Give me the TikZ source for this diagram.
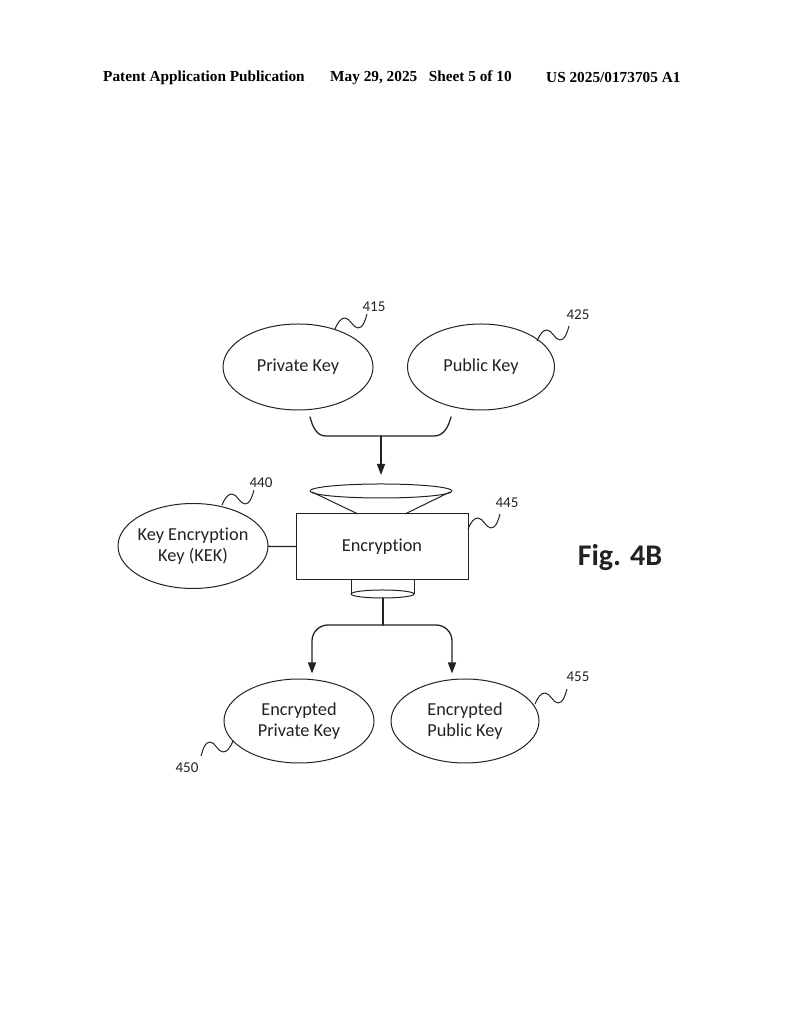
\documentclass[tikz,border=0pt]{standalone}
\usepackage{fontspec}
\setmainfont{Carlito}[Ligatures=NoCommon]
\newfontfamily\hdrfont{Liberation Serif}
\usetikzlibrary{calc,shapes.geometric,arrows.meta}
\definecolor{ink}{HTML}{222222}
\tikzset{
  base/.style={draw=ink, line width=1pt, line join=round},
  conn/.style={draw=ink, line width=1.3pt, line cap=round},
  arr/.style={conn, -{Triangle[width=8pt,length=11pt]}},
  keyell/.style={ellipse, draw=ink, line width=1pt, minimum width=150pt, minimum height=86pt,
    inner sep=0pt, align=center, text=ink, font=\fontsize{18.3}{21.5}\selectfont},
  encbox/.style={rectangle, draw=ink, line width=1pt, minimum width=172pt, minimum height=66pt,
    text=ink, font=\fontsize{18.3}{21.5}\selectfont},
  refnum/.style={text=ink, inner sep=0pt, font=\fontsize{15}{17}\selectfont},
  hdr/.style={anchor=west, inner sep=0pt, text=black, font=\hdrfont\bfseries\fontsize{15.3}{18}\selectfont},
  squig/.pic={\draw[base] (0,0) .. controls (3,7) and (6,11) .. (10,11)
    .. controls (15,11) and (18,1) .. (23,1) .. controls (28,1) and (30,8) .. (32,15);},
}
\begin{document}
\begin{tikzpicture}[x=1pt,y=1pt]
  \useasboundingbox (0,0) rectangle (794,1024);

  % header line
  \node[hdr] (h1) at (103,946) {Patent Application Publication};
  \node[hdr] (h2) at (330,946) {May 29, 2025\ \ \ Sheet 5 of 10};
  \node[hdr] (h3) at (546,946) {US 2025/0173705 A1};

  % key nodes
  \node[keyell] (priv) at (298,657) {Private Key};
  \node[keyell, minimum width=147pt] (pub) at (481,657) {Public Key};
  \node[keyell, minimum height=85pt, inner xsep=-4pt] (kek) at (193,478) {Key Encryption\\Key (KEK)};
  \node[encbox] (enc) at (382,477) {Encryption};
  \node[keyell, minimum height=84pt] (epriv) at (299,303) {Encrypted\\Private Key};
  \node[keyell, minimum width=148pt, minimum height=84pt] (epub) at (465,303) {Encrypted\\Public Key};

  \node[text=ink, font=\bfseries\fontsize{30}{36}\selectfont] (fig) at (620,466) {Fig. 4B};

  % brace joining the two keys
  \coordinate (bl) at (310,607);
  \coordinate (br) at (451,607);
  \coordinate (bm) at (381,588);
  \coordinate (fun) at (381,533);
  \draw[conn] (bl) to[out=-75,in=180] (326,588) -- (434,588) to[out=0,in=-105] (br);
  \draw[arr] (bm) -- ($(fun)+(0,16)$);

  % funnel on top of the box
  \draw[base] (fun) ellipse [x radius=71pt, y radius=7pt];
  \draw[base] (312,532) -- (358,510);
  \draw[base] (450,532) -- (405,510);

  % outlet under the box
  \coordinate (cyl) at (382.5,430);
  \draw[base] (351,444) -- (351,430);
  \draw[base] (414,444) -- (414,430);
  \draw[base] (cyl) ellipse [x radius=31.5pt, y radius=4pt];

  % split to the two results
  \coordinate (sp) at (383,399);
  \draw[conn] ($(cyl)+(0.5,-4)$) -- (sp);
  \draw[arr, rounded corners=16pt] (sp) -- (312,399) -- ($(epriv.north)+(13,5)$);
  \draw[arr, rounded corners=16pt] (sp) -- (452,399) -- ($(epub.north)+(-13,5)$);

  \draw[conn] (kek) -- (enc);

  % reference numerals
  \pic at (335,695) {squig};
  \node[refnum] (n415) at (374,717) {415};
  \pic at (537,683) {squig};
  \node[refnum] (n425) at (578,709) {425};
  \pic at (222,519) {squig};
  \node[refnum] (n440) at (261,541) {440};
  \pic at (468,495) {squig};
  \node[refnum] (n445) at (507,521) {445};
  \pic at (535,320) {squig};
  \node[refnum] (n455) at (578,347) {455};
  \pic[rotate=180] at (233,283) {squig};
  \node[refnum] (n450) at (187,256) {450};
\end{tikzpicture}
\end{document}
